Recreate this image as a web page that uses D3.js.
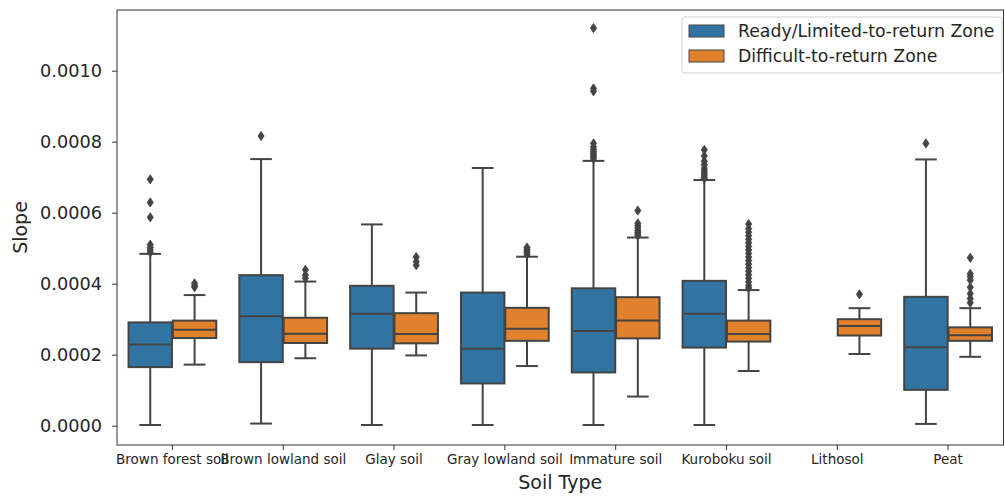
<!DOCTYPE html>
<html>
<head>
<meta charset="utf-8">
<script src="https://cdn.jsdelivr.net/npm/d3@7"></script>
<style>
  html, body { margin: 0; padding: 0; background: #fff; }
  svg { display: block; font-family: "DejaVu Sans", sans-serif; }
</style>
</head>
<body>
<svg id="chart" width="1005" height="497"></svg>
<script>
// Soil categories along the x axis
const soilTypes = ["Brown forest soil", "Brown lowland soil", "Glay soil", "Gray lowland soil",
                   "Immature soil", "Kuroboku soil", "Lithosol", "Peat"];
const zones = ["Ready/Limited-to-return Zone", "Difficult-to-return Zone"];
const zoneColors = ["#3274a1", "#e1812c"];
const yTicks = [0, 0.0002, 0.0004, 0.0006, 0.0008, 0.0010];

// Ready/Limited-to-return Zone box statistics (null = no data)
const readyWhiskerLow  = [0.000002, 0.000006, 0.000002, 0.000002, 0.000002, 0.000002, null, 0.000005];
const readyQ1          = [0.000165, 0.000179, 0.000217, 0.000119, 0.000150, 0.000220, null, 0.000101];
const readyMedian      = [0.000229, 0.000308, 0.000315, 0.000217, 0.000267, 0.000315, null, 0.000221];
const readyQ3          = [0.000291, 0.000424, 0.000394, 0.000375, 0.000387, 0.000408, null, 0.000363];
const readyWhiskerHigh = [0.000484, 0.000751, 0.000567, 0.000726, 0.000746, 0.000692, null, 0.000750];
const readyOutliers = [
  [0.000694, 0.000629, 0.000587, 0.000510, 0.000502, 0.000495, 0.000488],
  [0.000816],
  [],
  [],
  [0.001120, 0.000950, 0.000942, 0.000795, 0.000785, 0.000778, 0.000772, 0.000767, 0.000762, 0.000757, 0.000752],
  [0.000777, 0.000760, 0.000745, 0.000735, 0.000725, 0.000718, 0.000712, 0.000706, 0.000700, 0.000696],
  [],
  [0.000795]
];

// Difficult-to-return Zone box statistics
const difficultWhiskerLow  = [0.000172, 0.000190, 0.000198, 0.000168, 0.000082, 0.000154, 0.000202, 0.000194];
const difficultQ1          = [0.000247, 0.000233, 0.000232, 0.000239, 0.000246, 0.000237, 0.000254, 0.000239];
const difficultMedian      = [0.000270, 0.000259, 0.000258, 0.000273, 0.000296, 0.000258, 0.000281, 0.000255];
const difficultQ3          = [0.000296, 0.000304, 0.000317, 0.000332, 0.000362, 0.000296, 0.000300, 0.000277];
const difficultWhiskerHigh = [0.000368, 0.000406, 0.000375, 0.000476, 0.000530, 0.000382, 0.000331, 0.000331];
const difficultOutliers = [
  [0.000401, 0.000395, 0.000390],
  [0.000439, 0.000424, 0.000415],
  [0.000475, 0.000462, 0.000452],
  [0.000502, 0.000497, 0.000492, 0.000487, 0.000482],
  [0.000606, 0.000570, 0.000563, 0.000557, 0.000550, 0.000545, 0.000540, 0.000535],
  [0.000568, 0.000555, 0.000545, 0.000535, 0.000525, 0.000515, 0.000505, 0.000495, 0.000485, 0.000475,
   0.000465, 0.000455, 0.000445, 0.000435, 0.000425, 0.000415, 0.000405, 0.000395, 0.000388],
  [0.000370],
  [0.000473, 0.000428, 0.000420, 0.000410, 0.000390, 0.000372, 0.000358, 0.000346]
];

const seriesStats = [
  { low: readyWhiskerLow, q1: readyQ1, med: readyMedian, q3: readyQ3, high: readyWhiskerHigh, out: readyOutliers },
  { low: difficultWhiskerLow, q1: difficultQ1, med: difficultMedian, q3: difficultQ3, high: difficultWhiskerHigh, out: difficultOutliers }
];

const margin = { left: 117, right: 1003.5, top: 10, bottom: 445 };
const lineColor = "#444444";
const lineW = 2;

const svg = d3.select("#chart");

const x = d3.scaleBand().domain(soilTypes).range([margin.left, margin.right]).padding(0);
const xHue = d3.scaleBand().domain(zones).range([0.1 * x.bandwidth(), 0.9 * x.bandwidth()]).padding(0);
const y = d3.scaleLinear().domain([-0.0000544, 0.001171]).range([margin.bottom, margin.top]);

const boxW = xHue.bandwidth() * 0.98;
const capW = boxW / 2;

// Boxes
const plot = svg.append("g");
seriesStats.forEach((s, si) => {
  soilTypes.forEach((cat, ci) => {
    if (s.q1[ci] == null) return;
    const cx = x(cat) + xHue(zones[si]) + xHue.bandwidth() / 2;
    const g = plot.append("g");
    // whiskers
    g.append("line").attr("x1", cx).attr("x2", cx).attr("y1", y(s.q1[ci])).attr("y2", y(s.low[ci]))
      .attr("stroke", lineColor).attr("stroke-width", lineW);
    g.append("line").attr("x1", cx).attr("x2", cx).attr("y1", y(s.q3[ci])).attr("y2", y(s.high[ci]))
      .attr("stroke", lineColor).attr("stroke-width", lineW);
    // caps
    [s.low[ci], s.high[ci]].forEach(v => {
      g.append("line").attr("x1", cx - capW / 2).attr("x2", cx + capW / 2).attr("y1", y(v)).attr("y2", y(v))
        .attr("stroke", lineColor).attr("stroke-width", lineW);
    });
    // box
    g.append("rect").attr("x", cx - boxW / 2).attr("width", boxW)
      .attr("y", y(s.q3[ci])).attr("height", y(s.q1[ci]) - y(s.q3[ci]))
      .attr("fill", zoneColors[si]).attr("stroke", lineColor).attr("stroke-width", lineW);
    // median
    g.append("line").attr("x1", cx - boxW / 2).attr("x2", cx + boxW / 2)
      .attr("y1", y(s.med[ci])).attr("y2", y(s.med[ci]))
      .attr("stroke", lineColor).attr("stroke-width", lineW);
    // fliers as thin diamonds
    g.selectAll("path.flier").data(s.out[ci]).join("path")
      .attr("class", "flier")
      .attr("d", "M0,-4.6L3.1,0L0,4.6L-3.1,0Z")
      .attr("transform", v => `translate(${cx},${y(v)})`)
      .attr("fill", lineColor).attr("stroke", lineColor).attr("stroke-width", 0.8);
  });
});

// Axes frame
svg.append("rect").attr("x", margin.left).attr("y", margin.top)
  .attr("width", margin.right - margin.left).attr("height", margin.bottom - margin.top)
  .attr("fill", "none").attr("stroke", "#333").attr("stroke-width", 1);

// Y axis
const yAxis = d3.axisLeft(y).tickValues(yTicks).tickFormat(d3.format(".4f")).tickSize(5).tickPadding(10);
const yg = svg.append("g").attr("transform", `translate(${margin.left},0)`).call(yAxis);
yg.select(".domain").remove();
yg.selectAll(".tick line").attr("stroke", "#333");
yg.selectAll(".tick text").attr("font-size", "17.7px").attr("fill", "#262626")
  .attr("font-family", "DejaVu Sans");

// X axis
const xAxis = d3.axisBottom(x).tickSize(5).tickPadding(4);
const xg = svg.append("g").attr("transform", `translate(0,${margin.bottom})`).call(xAxis);
xg.select(".domain").remove();
xg.selectAll(".tick line").attr("stroke", "#333");
xg.selectAll(".tick text").attr("font-size", "13.5px").attr("fill", "#262626")
  .attr("font-family", "DejaVu Sans");

// Axis titles
svg.append("text").attr("x", (margin.left + margin.right) / 2).attr("y", 489)
  .attr("text-anchor", "middle").attr("font-size", "19px").attr("fill", "#262626").text("Soil Type");
svg.append("text").attr("transform", `translate(27,${(margin.top + margin.bottom) / 2}) rotate(-90)`)
  .attr("text-anchor", "middle").attr("font-size", "19px").attr("fill", "#262626").text("Slope");

// Legend
const legend = svg.append("g");
legend.append("rect").attr("x", 682).attr("y", 17).attr("width", 320).attr("height", 56).attr("rx", 3)
  .attr("fill", "#fff").attr("fill-opacity", 0.8).attr("stroke", "#d0d0d0").attr("stroke-width", 1);
zones.forEach((z, i) => {
  const ly = 31 + i * 25;
  legend.append("rect").attr("x", 689).attr("y", ly - 6).attr("width", 35).attr("height", 12)
    .attr("fill", zoneColors[i]).attr("stroke", lineColor).attr("stroke-width", 1);
  legend.append("text").attr("x", 738).attr("y", ly).attr("dy", "0.36em")
    .attr("font-size", "17.3px").attr("fill", "#262626").text(z);
});
</script>
</body>
</html>
